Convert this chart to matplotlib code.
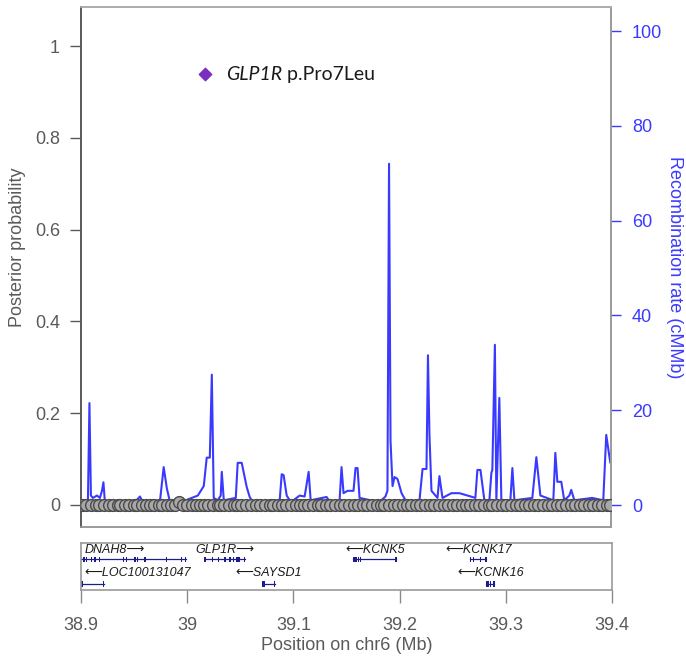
import matplotlib.pyplot as plt
from matplotlib.patches import Rectangle

plt.rcParams["font.family"] = ["Liberation Sans", "DejaVu Sans"]

# recombination rate track (position in Mb, rate in cM/Mb)
rec_pos = [38.9047, 38.9066, 38.9080, 38.9094, 38.9113, 38.9151, 38.9179, 38.9198, 38.9212, 38.9226,
           38.9508, 38.9556, 38.9584, 38.9744, 38.9780, 38.9810, 38.9840, 38.9913, 38.9942, 39.0102,
           39.0158, 39.0186, 39.0215, 39.0234, 39.0252, 39.0290, 39.0318, 39.0328, 39.0347, 39.0460,
           39.0478, 39.0516, 39.0563, 39.0591, 39.0620, 39.0874, 39.0893, 39.0911, 39.0940, 39.0980,
           39.1062, 39.1109, 39.1147, 39.1166, 39.1316, 39.1350, 39.1439, 39.1457, 39.1476, 39.1514,
           39.1570, 39.1589, 39.1608, 39.1627, 39.1815, 39.1871, 39.1890, 39.1905, 39.1919, 39.1938,
           39.1957, 39.1985, 39.2023, 39.2070, 39.2192, 39.2221, 39.2258, 39.2272, 39.2286, 39.2305,
           39.2362, 39.2380, 39.2409, 39.2493, 39.2569, 39.2691, 39.2719, 39.2738, 39.2767, 39.2804,
           39.2851, 39.2870, 39.2879, 39.2903, 39.2917, 39.2945, 39.2964, 39.3049, 39.3068, 39.3087,
           39.3256, 39.3294, 39.3332, 39.3454, 39.3473, 39.3492, 39.3529, 39.3557, 39.3605, 39.3623,
           39.3652, 39.3821, 39.3925, 39.3953, 39.3981, 39.3991]
rec_rate = [0.5, 1.0, 21.5, 2.0, 1.5, 2.0, 1.5, 3.0, 4.8, 0.6,
            0.6, 1.8, 0.6, 0.6, 8.0, 3.5, 0.6, 1.0, 0.6, 2.0,
            4.0, 10.0, 10.0, 27.5, 1.5, 1.0, 2.0, 7.0, 1.0, 1.5,
            8.9, 8.9, 3.8, 1.7, 0.6, 1.0, 6.5, 6.3, 2.0, 0.6,
            2.0, 1.8, 7.0, 1.0, 1.7, 0.6, 1.0, 8.0, 2.5, 3.0,
            3.0, 7.8, 7.8, 1.5, 0.6, 1.8, 3.0, 72.0, 13.5, 4.0,
            5.9, 5.5, 2.5, 0.6, 1.0, 7.6, 7.6, 31.6, 14.8, 3.0,
            1.5, 6.1, 1.5, 2.5, 2.5, 1.7, 1.5, 7.4, 7.4, 1.0,
            1.0, 6.8, 7.4, 33.8, 1.0, 22.6, 1.0, 1.0, 7.8, 1.0,
            1.5, 10.1, 2.0, 1.0, 11.0, 4.9, 4.9, 1.0, 2.0, 3.2,
            1.0, 1.5, 1.0, 14.8, 10.5, 9.0]

# variants with their posterior probabilities
snp_pos = [38.9010, 38.9052, 38.9098, 38.9140, 38.9171, 38.9215, 38.9262, 38.9301, 38.9350, 38.9372,
           38.9418, 38.9455, 38.9497, 38.9530, 38.9575, 38.9612, 38.9655, 38.9690, 38.9733, 38.9768,
           38.9812, 38.9850, 38.9891, 38.9925, 38.9962, 39.0004, 39.0044, 39.0085, 39.0118, 39.0160,
           39.0196, 39.0241, 39.0288, 39.0310, 39.0352, 39.0395, 39.0441, 39.0467, 39.0510, 39.0552,
           39.0601, 39.0648, 39.0690, 39.0738, 39.0781, 39.0810, 39.0856, 39.0900, 39.0936, 39.0981,
           39.1024, 39.1070, 39.1105, 39.1142, 39.1190, 39.1232, 39.1268, 39.1310, 39.1350, 39.1398,
           39.1441, 39.1480, 39.1525, 39.1570, 39.1612, 39.1655, 39.1701, 39.1745, 39.1790, 39.1826,
           39.1862, 39.1905, 39.1950, 39.1992, 39.2036, 39.2075, 39.2111, 39.2158, 39.2200, 39.2246,
           39.2290, 39.2332, 39.2380, 39.2419, 39.2461, 39.2505, 39.2548, 39.2590, 39.2631, 39.2668,
           39.2712, 39.2755, 39.2801, 39.2846, 39.2880, 39.2925, 39.2968, 39.3012, 39.3055, 39.3098,
           39.3140, 39.3185, 39.3228, 39.3270, 39.3312, 39.3356, 39.3400, 39.3445, 39.3490, 39.3530,
           39.3575, 39.3618, 39.3660, 39.3702, 39.3744, 39.3790, 39.3831, 39.3872, 39.3915, 39.3958,
           39.3992]
snp_post = [0.0] * len(snp_pos)
snp_post[23] = 0.006

# gene annotation track
genes = ["DNAH8", "GLP1R", "LOC100131047", "SAYSD1", "KCNK5", "KCNK17", "KCNK16"]
gene_start = [38.780, 39.0165, 38.880, 39.0714, 39.1564, 39.2663, 39.2814]
gene_end = [38.9989, 39.0548, 38.9217, 39.0827, 39.1968, 39.2814, 39.2890]
gene_strand = ["+", "+", "-", "-", "-", "-", "-"]
gene_row = [0, 0, 1, 1, 0, 0, 1]
gene_exons = [
    [38.9028, 38.9054, 38.9101, 38.9132, 38.9172, 38.9398, 38.9430, 38.9508, 38.9530, 38.9603, 38.9807, 38.9948, 38.9985],
    [39.0168, 39.0240, 39.0293, 39.0356, 39.0403, 39.0434, 39.0465, 39.0478, 39.0490, 39.0540],
    [38.9009, 38.9214],
    [39.0714, 39.0722, 39.0730, 39.0824],
    [39.1564, 39.1572, 39.1580, 39.1588, 39.1611, 39.1634, 39.1965],
    [39.2663, 39.2694, 39.2757, 39.2811],
    [39.2814, 39.2822, 39.2830, 39.2851, 39.2887],
]

variant_label = "GLP1R"
variant_desc = " p.Pro7Leu"

xmin, xmax = 38.9, 39.4
grey = "#5a5a5a"
blue = "#3a3aff"

fig = plt.figure(figsize=(6.86, 6.56), dpi=100)
ax = fig.add_axes([0.118, 0.1966, 0.773, 0.7927])
ax2 = ax.twinx()

ax2.plot(rec_pos, rec_rate, color=blue, lw=1.5, zorder=1)
ax.scatter(snp_pos, snp_post, s=72, facecolor="#a8a8a8", edgecolor="#4a4a4a",
           linewidth=1.0, zorder=5)
ax.set_zorder(ax2.get_zorder() + 1)
ax.patch.set_visible(False)

ax.set_xlim(xmin, xmax)
ax.set_ylim(-0.048, 1.085)
ax2.set_ylim(-4.64, 105.06)
ax.set_xticks([])
ax.set_yticks([0, 0.2, 0.4, 0.6, 0.8, 1.0])
ax.set_yticklabels(["0", "0.2", "0.4", "0.6", "0.8", "1"])
ax.tick_params(axis="y", length=8, width=1, color=grey, labelcolor=grey,
               labelsize=13, pad=7)
ax2.set_yticks([0, 20, 40, 60, 80, 100])
ax2.tick_params(axis="y", length=7, width=1, color=blue, labelcolor=blue,
                labelsize=13, pad=8)

for a in (ax, ax2):
    for side in ("top", "right", "bottom"):
        a.spines[side].set_color("#9a9a9a")
        a.spines[side].set_linewidth(1.2)
    a.spines["left"].set_color(grey)
    a.spines["left"].set_linewidth(1.2)
ax.spines["top"].set_color("#b0b0b0")

fig.text(18 / 686, 1 - 247 / 656, "Posterior probability", rotation=90,
         ha="center", va="center", color=grey, fontsize=13)
fig.text(674 / 686, 1 - 267 / 656, "Recombination rate (cMMb)", rotation=270,
         ha="center", va="center", color=blue, fontsize=13)

# variant key
ax.scatter([0.234], [0.871], marker="D", s=40, color="#7a2fbf",
           transform=ax.transAxes, zorder=6, clip_on=False)
t1 = ax.text(0.2736, 0.871, variant_label, transform=ax.transAxes, ha="left",
             va="center", fontsize=14, fontstyle="italic", family="Lato", color="#1a1a1a")
ax.annotate(variant_desc, xy=(1, 0.5), xycoords=t1, ha="left", va="center",
            fontsize=14, family="Lato", color="#1a1a1a")

# gene panel
gx = fig.add_axes([0.118, 0.1006, 0.7745, 0.0716])
gx.set_xlim(xmin, xmax)
gx.set_ylim(0, 1)
gx.set_yticks([])
gx.set_xticks([38.9, 39.0, 39.1, 39.2, 39.3, 39.4])
gx.set_xticklabels(["38.9", "39", "39.1", "39.2", "39.3", "39.4"])
gx.tick_params(axis="x", length=9.5, width=1, color="#8a8a8a", labelcolor=grey,
               labelsize=13, pad=10)
for s in gx.spines.values():
    s.set_color("#9a9a9a")
    s.set_linewidth(1.2)

navy = "#1c1c8a"
line_y = [0.65, 0.13]
label_y = [0.85, 0.36]
for name, st, en, strand, row, exons in zip(genes, gene_start, gene_end,
                                            gene_strand, gene_row, gene_exons):
    y = line_y[row]
    gx.plot([max(st, xmin), min(en, xmax)], [y, y], color=navy, lw=0.9)
    for e in exons:
        gx.add_patch(Rectangle((e - 0.0006, y - 0.06), 0.0012, 0.12,
                               color=navy, lw=0))
    label = name + "\u27f6" if strand == "+" else "\u27f5" + name
    if st < xmin:
        lx, ha = xmin + 0.003, "left"
    else:
        lx, ha = (st + en) / 2, "center"
    gx.text(lx, label_y[row], label, ha=ha, va="center", fontsize=9,
            fontstyle="italic", color="#1a1a1a")

fig.text(347 / 686, 1 - 645 / 656, "Position on chr6 (Mb)", ha="center",
         va="center", color=grey, fontsize=13)

fig.savefig("out.png", dpi=100)
